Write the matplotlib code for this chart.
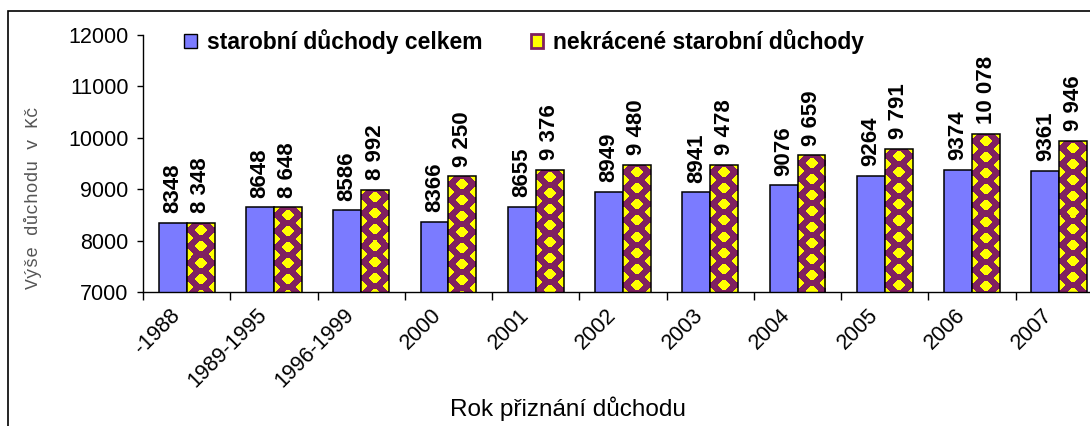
import numpy as np
import matplotlib
matplotlib.use('Agg')
import matplotlib.pyplot as plt
from matplotlib.patches import Patch, Rectangle
from matplotlib.transforms import ScaledTranslation

categories = ['-1988', '1989-1995', '1996-1999', '2000', '2001', '2002',
              '2003', '2004', '2005', '2006', '2007']
celkem = [8348, 8648, 8586, 8366, 8655, 8949, 8941, 9076, 9264, 9374, 9361]
nekracene = [8348, 8648, 8992, 9250, 9376, 9480, 9478, 9659, 9791, 10078, 9946]
yticks = [7000, 8000, 9000, 10000, 11000, 12000]

blue = '#7B7BFF'
maroon = np.array([0x80, 0x20, 0x60]) / 255
yellow = np.array([1.0, 1.0, 0.0])

plt.rcParams['font.family'] = ['Liberation Sans', 'DejaVu Sans']

W, H = 1090, 426
fig = plt.figure(figsize=(W / 100, H / 100), dpi=100)
ax = fig.add_axes([143 / W, (H - 292) / H, 960 / W, (292 - 35) / H])

x = np.arange(len(categories))
w = 0.32
ymin = 7000

bars1 = ax.bar(x - w / 2, celkem, w, color=blue, edgecolor='black',
               linewidth=1.1, zorder=2)
bars2 = ax.bar(x + w / 2, nekracene, w, color='none', edgecolor='black',
               linewidth=1.1, zorder=3)

ax.set_xlim(-0.5, len(categories) - 0.5)
ax.set_ylim(yticks[0], yticks[-1])


def diamond_fill(w_px, h_px, b=8.0, kx=0.5, ky=0.72):
    # staggered yellow diamonds on maroon: centre column and bar edges
    a = w_px / 2
    yy, xx = np.mgrid[0:h_px, 0:w_px] + 0.5
    u = xx / a
    v = yy / b
    fill = np.zeros((h_px, w_px), bool)
    for di in (0, 1):
        for dj in (0, 1):
            i = np.floor(u) + di
            j = np.floor(v) + dj
            even = ((i + j) % 2) == 0
            inside = np.abs(u - i) / kx + np.abs(v - j) / ky <= 1
            fill |= even & inside
    return np.where(fill[..., None], yellow, maroon)


for bar in bars2:
    x0, x1 = bar.get_x(), bar.get_x() + bar.get_width()
    top = bar.get_height()
    p0 = ax.transData.transform((x0, ymin))
    p1 = ax.transData.transform((x1, top))
    w_px = max(int(round(p1[0] - p0[0])), 2)
    h_px = max(int(round(p1[1] - p0[1])), 2)
    im = ax.imshow(diamond_fill(w_px, h_px), extent=(x0, x1, ymin, top),
                   aspect='auto', interpolation='nearest', zorder=2.5)
    im.set_clip_path(bar)

ax.set_xlim(-0.5, len(categories) - 0.5)
ax.set_ylim(yticks[0], yticks[-1])

for bar, v in zip(bars1, celkem):
    ax.annotate(str(v), (bar.get_x() + bar.get_width() / 2, v), xytext=(0, 7),
                textcoords='offset points', rotation=90, ha='center',
                va='bottom', fontsize=16, fontweight='bold', annotation_clip=False)
for bar, v in zip(bars2, nekracene):
    ax.annotate(f'{v:,}'.replace(',', ' '), (bar.get_x() + bar.get_width() / 2, v),
                xytext=(0, 7), textcoords='offset points', rotation=90,
                ha='center', va='bottom', fontsize=16, fontweight='bold',
                annotation_clip=False)

ax.set_yticks(yticks)
ax.set_yticklabels([str(t) for t in yticks], fontsize=15.5)
ax.tick_params(axis='y', direction='out', length=4.5, width=1, pad=6)

ax.set_xticks(x)
ax.set_xticklabels(categories, fontsize=15.5)
ax.set_xticks(np.arange(-0.5, len(categories), 1), minor=True)
ax.tick_params(axis='x', which='major', length=0, pad=14.5)
ax.tick_params(axis='x', which='minor', direction='out', length=6, width=1)
shift = ScaledTranslation(-10 / 100, 0, fig.dpi_scale_trans)
for lbl in ax.get_xticklabels():
    lbl.set_rotation(45)
    lbl.set_ha('right')
    lbl.set_va('center')
    lbl.set_rotation_mode('anchor')
    lbl.set_transform(lbl.get_transform() + shift)

for side in ['top', 'right']:
    ax.spines[side].set_visible(False)
for side in ['left', 'bottom']:
    ax.spines[side].set_linewidth(1)

fig.text(33 / W, (H - 198) / H, 'Výše důchodu v Kč', rotation=90,
         family='Liberation Mono', fontsize=13, color='#555555',
         ha='center', va='center')
fig.text(568 / W, (H - 409) / H, 'Rok přiznání důchodu', fontsize=17.5,
         ha='center', va='center')

handles = [Patch(facecolor=blue, edgecolor='black', linewidth=1),
           Patch(facecolor='#FFFF00', edgecolor='#802060', linewidth=2)]
fig.legend(handles, ['starobní důchody celkem', 'nekrácené starobní důchody'],
           loc='upper left', bbox_to_anchor=(184 / W, (H - 29) / H), ncol=2,
           frameon=False, prop={'weight': 'bold', 'size': 16.5},
           handlelength=0.55, handleheight=0.55, handletextpad=0.45,
           columnspacing=2.1, borderpad=0, borderaxespad=0)

fig.add_artist(Rectangle((8 / W, -0.1), 1.2, (H - 11) / H + 0.1,
                         transform=fig.transFigure, fill=False,
                         edgecolor='black', linewidth=1.2))

fig.savefig('out.png', dpi=100)
